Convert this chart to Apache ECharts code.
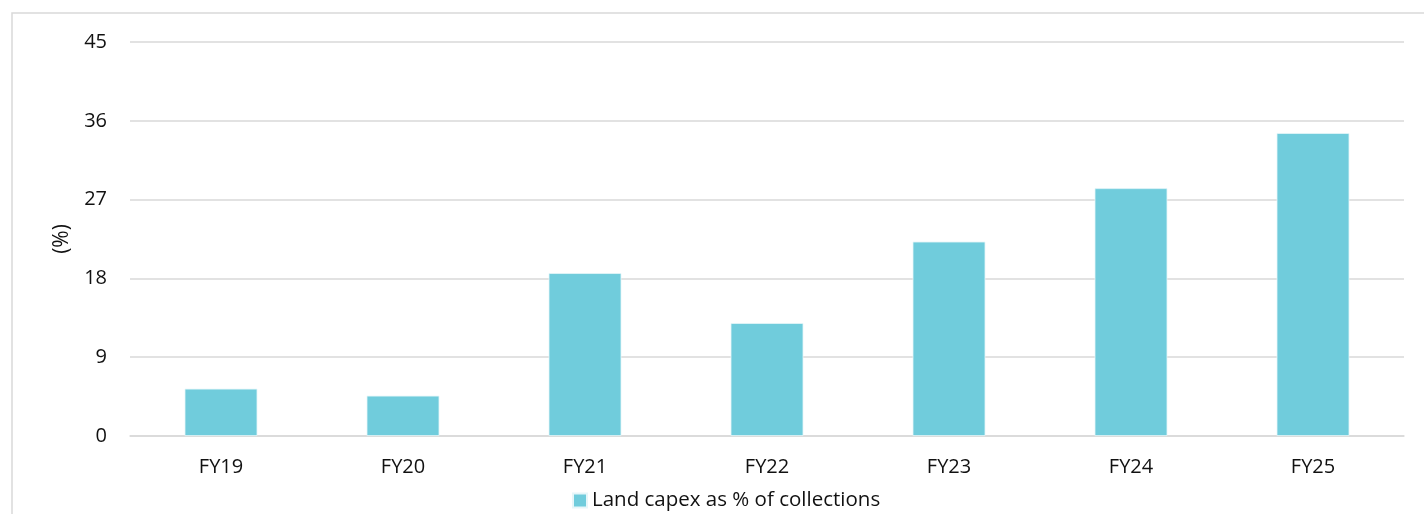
<!DOCTYPE html>
<html>
<head>
<meta charset="utf-8">
<script src="https://cdn.jsdelivr.net/npm/echarts@6/dist/echarts.min.js"></script>
<style>
  html, body { margin: 0; padding: 0; background: #fff; }
  #chart { width: 1424px; height: 514px; }
</style>
</head>
<body>
<div id="chart"></div>
<script>
// Fiscal years shown on the category axis
const categories = ['FY19', 'FY20', 'FY21', 'FY22', 'FY23', 'FY24', 'FY25'];
// Land capex as a share of collections (%)
const landCapexPct = [5.4, 4.6, 18.6, 12.9, 22.2, 28.3, 34.6];
// Value axis range
const yMin = 0, yMax = 45, yStep = 9;
const seriesName = 'Land capex as % of collections';

const chart = echarts.init(document.getElementById('chart'), null, { renderer: 'canvas' });
const font = '"Open Sans", "Liberation Sans", sans-serif';
const textColor = '#111';

chart.setOption({
  animation: false,
  backgroundColor: '#fff',
  graphic: [{
    type: 'rect',
    shape: { x: 12, y: 13, width: 1440, height: 540 },
    style: { fill: 'none', stroke: '#d9d9d9', lineWidth: 1.5 },
    silent: true
  }],
  grid: { left: 130, right: 20, top: 42, bottom: 78, containLabel: false },
  legend: {
    data: [seriesName],
    top: 485,
    left: 567,
    itemWidth: 14,
    itemHeight: 14,
    itemGap: 6,
    icon: 'rect',
    textStyle: { fontFamily: font, fontSize: 20.5, color: textColor }
  },
  xAxis: {
    type: 'category',
    data: categories,
    axisLine: { show: true, lineStyle: { color: '#d9d9d9', width: 1.5 } },
    axisTick: { show: false },
    axisLabel: { fontFamily: font, fontSize: 20, color: textColor, margin: 21 }
  },
  yAxis: {
    type: 'value',
    min: yMin, max: yMax, interval: yStep,
    name: '(%)',
    nameLocation: 'middle',
    nameGap: 57,
    nameRotate: 90,
    nameTextStyle: { fontFamily: font, fontSize: 21, color: textColor },
    axisLine: { show: false },
    axisTick: { show: false },
    axisLabel: { fontFamily: font, fontSize: 20, color: textColor, margin: 23 },
    splitLine: { lineStyle: { color: '#d9d9d9', width: 1.5 } }
  },
  series: [{
    name: seriesName,
    type: 'bar',
    data: landCapexPct,
    barWidth: '40%',
    itemStyle: { color: '#70CCDC', borderColor: '#e6f6f9', borderWidth: 0.8 }
  }]
});
</script>
</body>
</html>
